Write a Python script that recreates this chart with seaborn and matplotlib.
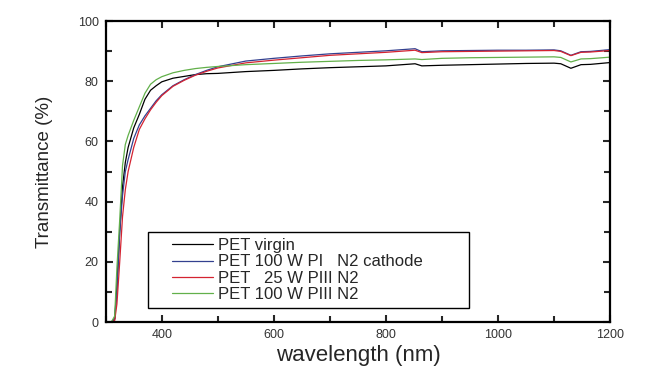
import pandas as pd
import seaborn as sns
import matplotlib.pyplot as plt
from matplotlib.lines import Line2D
from matplotlib.legend_handler import HandlerLine2D
from matplotlib.ticker import MultipleLocator

wavelength = [300, 310, 316, 320, 325, 330, 335, 340, 350, 360, 370, 380, 390, 400,
              420, 440, 460, 480, 500, 550, 600, 650, 700, 750, 800, 852, 864, 900,
              950, 1000, 1050, 1100, 1112, 1130, 1148, 1165, 1200]

pet_virgin = [0, 0, 1, 12, 30, 45, 53, 58, 64.5, 69, 74, 77, 78.5, 79.8,
              81, 81.6, 82.2, 82.5, 82.6, 83.2, 83.6, 84.1, 84.5, 84.8, 85.1, 85.8, 85.1, 85.3,
              85.5, 85.7, 85.9, 86.0, 85.8, 84.3, 85.5, 85.6, 86.2]
pet_100w_pi = [0, 0, 1, 10, 30, 42, 50, 54, 61, 65.5, 68.5, 71, 73.5, 75.5,
               78.5, 80.5, 82.2, 83.6, 84.8, 86.7, 87.6, 88.4, 89.1, 89.6, 90.1, 90.8, 89.8, 90.1,
               90.2, 90.3, 90.3, 90.4, 90.1, 88.6, 89.8, 89.9, 90.5]
pet_25w_piii = [0, 0, 0.5, 6, 20, 35, 44, 50, 58, 64, 67.5, 70.5, 73, 75.2,
                78.3, 80.3, 82, 83.3, 84.4, 86.1, 87.0, 87.8, 88.6, 89.1, 89.6, 90.3, 89.5, 89.8,
                89.9, 90.0, 90.1, 90.2, 89.9, 88.5, 89.6, 89.7, 90.2]
pet_100w_piii = [0, 0, 2, 18, 34, 52, 59, 62, 67, 71.5, 76, 79, 80.5, 81.5,
                 82.8, 83.6, 84.2, 84.6, 84.9, 85.5, 85.9, 86.3, 86.6, 86.9, 87.1, 87.4, 87.2, 87.6,
                 87.8, 87.9, 88.0, 88.1, 87.9, 86.4, 87.4, 87.5, 88.0]

labels = ["PET virgin", "PET 100 W PI   N2 cathode", "PET   25 W PIII N2", "PET 100 W PIII N2"]
colors = ["#000000", "#33408f", "#d42331", "#62b04a"]

frames = []
for lab, vals in zip(labels, [pet_virgin, pet_100w_pi, pet_25w_piii, pet_100w_piii]):
    frames.append(pd.DataFrame({"wavelength": wavelength, "T": vals, "sample": lab}))
df = pd.concat(frames, ignore_index=True)

sns.set_style("ticks")
plt.rcParams['font.family'] = ['Liberation Sans', 'DejaVu Sans']

fig, ax = plt.subplots(figsize=(6.69, 3.75), dpi=100)
fig.subplots_adjust(left=0.158, right=0.912, bottom=0.141, top=0.944)

sns.lineplot(data=df, x="wavelength", y="T", hue="sample", hue_order=labels,
             palette=colors, linewidth=0.9, ax=ax, legend=True, sort=False)

ax.set_xlim(300, 1200)
ax.set_ylim(0, 100)
ax.xaxis.set_major_locator(MultipleLocator(200))
ax.xaxis.set_minor_locator(MultipleLocator(100))
ax.yaxis.set_major_locator(MultipleLocator(20))
ax.yaxis.set_minor_locator(MultipleLocator(10))
ax.set_xticks([400, 600, 800, 1000, 1200])

for s in ax.spines.values():
    s.set_visible(True)
    s.set_linewidth(1.6)
    s.set_color("black")
ax.tick_params(which="both", direction="in", top=True, right=True, width=1.5,
               labelsize=9, labelcolor="#333333", pad=5)
ax.tick_params(which="major", length=5)
ax.tick_params(which="minor", length=4)

ax.set_xlabel("wavelength (nm)", fontsize=16, labelpad=3)
ax.set_ylabel("Transmittance (%)", fontsize=13.5, labelpad=18)

handles, _ = ax.get_legend_handles_labels()
leg = ax.legend(handles, labels, loc="lower left", bbox_to_anchor=(0.083, 0.047, 0.637, 0.3),
                mode="expand", fontsize=12, frameon=True, fancybox=False,
                edgecolor="black", framealpha=1, labelspacing=0.08, borderpad=0.35,
                handlelength=3.6, handletextpad=0.3, borderaxespad=0,
                handler_map={Line2D: HandlerLine2D(xpad=1.1)})
leg.get_frame().set_linewidth(1.0)

plt.savefig("out.png", dpi=100)
